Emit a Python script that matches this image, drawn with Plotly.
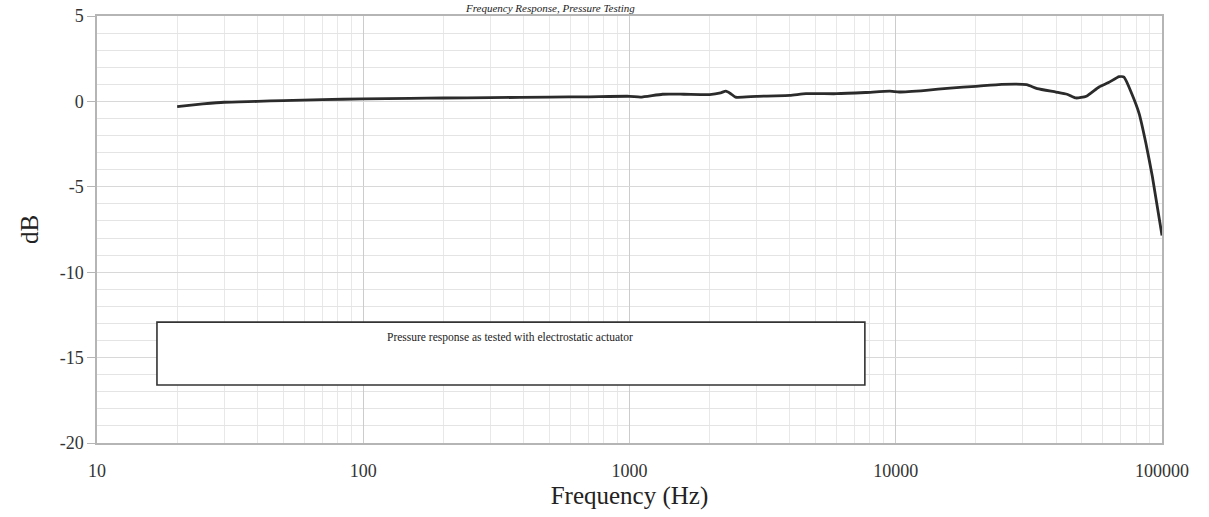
import plotly.graph_objects as go

# Data
freq_hz = [20, 25, 30, 40, 50, 70, 100, 150, 200, 300, 500, 700, 1000, 1100,
           1330, 1600, 2000, 2200, 2300, 2400, 2500, 3000, 4000, 4600, 6000,
           7700, 9500, 10300, 13000, 16000, 20000, 25000, 31000, 34000, 40000,
           44000, 47500, 52000, 58000, 63000, 69000, 72000, 77000, 82000,
           87000, 92000, 100000]
response_db = [-0.3, -0.15, -0.05, 0.0, 0.05, 0.1, 0.15, 0.18, 0.2, 0.22, 0.25,
               0.27, 0.3, 0.25, 0.42, 0.42, 0.4, 0.5, 0.6, 0.45, 0.25, 0.3, 0.35,
               0.45, 0.45, 0.52, 0.6, 0.55, 0.65, 0.78, 0.88, 1.0, 0.98, 0.75,
               0.55, 0.42, 0.2, 0.3, 0.84, 1.1, 1.45, 1.42, 0.45, -0.7, -2.45,
               -4.4, -7.85]

x_tick_vals = [10, 100, 1000, 10000, 100000]
x_tick_text = ["10", "100", "1000", "10000", "100000"]
y_tick_vals = [5, 0, -5, -10, -15, -20]
y_tick_text = ["5", "0", "-5", "-10", "-15", "-20"]

title_text = "Frequency Response, Pressure Testing"
box_text = "Pressure response as tested with electrostatic actuator"
x_title = "Frequency (Hz)"
y_title = "dB"

serif = "Liberation Serif"

fig = go.Figure()
fig.add_trace(go.Scatter(
    x=freq_hz, y=response_db, mode="lines",
    line=dict(color="#2b2b2b", width=2.8, shape="spline", smoothing=0.5),
    showlegend=False, hoverinfo="x+y",
))

fig.update_layout(
    width=1209, height=517,
    margin=dict(l=97, r=47, t=16, b=74),
    paper_bgcolor="white", plot_bgcolor="white",
    font=dict(family=serif, color="#222"),
    xaxis=dict(
        type="log", range=[1, 5], automargin=False,
        tickvals=x_tick_vals, ticktext=x_tick_text,
        tickfont=dict(family=serif, size=18, color="#333"),
        ticklabelstandoff=11,
        showgrid=True, gridcolor="#cccccc", gridwidth=1,
        minor=dict(showgrid=True, gridcolor="#e8e8e8", gridwidth=1, dtick="D1"),
        showline=True, linecolor="#b5b5b5", linewidth=1.5, mirror=True,
        ticks="", ticklen=0, zeroline=False,
        title=dict(text=x_title, font=dict(family=serif, size=25, color="#222"), standoff=6),
    ),
    yaxis=dict(
        range=[-20, 5], automargin=False,
        tickvals=y_tick_vals, ticktext=y_tick_text,
        tickfont=dict(family=serif, size=18, color="#333"),
        showgrid=True, gridcolor="#d8d8d8", gridwidth=1,
        minor=dict(showgrid=True, gridcolor="#e4e4e4", gridwidth=1, dtick=1),
        showline=True, linecolor="#b5b5b5", linewidth=1.5, mirror=True,
        ticks="outside", ticklen=8, tickcolor="#b5b5b5", zeroline=False,
        title=dict(text=y_title, font=dict(family=serif, size=25, color="#222"), standoff=14),
    ),
    shapes=[dict(
        type="rect", xref="paper", yref="paper",
        x0=0.0563, x1=0.721, y0=0.136, y1=0.283,
        line=dict(color="#333", width=1.6), fillcolor="white", layer="above",
    )],
    annotations=[
        dict(text=box_text, xref="paper", yref="paper", x=0.388, y=0.246,
             showarrow=False, font=dict(family=serif, size=11.5, color="#222"),
             xanchor="center", yanchor="middle"),
        dict(text="<i>" + title_text + "</i>", xref="paper", yref="paper",
             x=0.425, y=1.0, yshift=0, showarrow=False, yanchor="bottom",
             font=dict(family=serif, size=11, color="#222")),
    ],
)

fig.write_html("out.html", config={"displayModeBar": False},
               post_script="document.body.style.margin='0';document.body.style.overflow='hidden';")
